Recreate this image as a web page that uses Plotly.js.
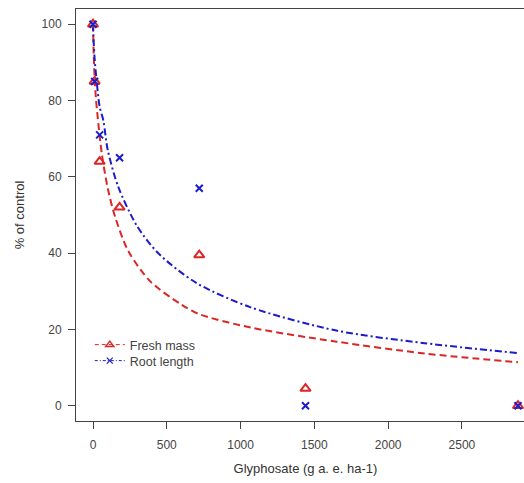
<!DOCTYPE html>
<html>
<head>
<meta charset="utf-8">
<script src="https://cdn.plot.ly/plotly-3.0.1.min.js"></script>
<style>
html,body{margin:0;padding:0;overflow:hidden;background:#fff;}
#chart{width:545px;height:483px;}
</style>
</head>
<body>
<div id="chart"></div>
<script>
// Observed points
var doses = [0, 11.25, 45, 180, 720, 1440, 2880];
var freshMass = [100, 85, 64, 52, 39.5, 4.5, 0];
var rootLength = [100, 85, 71, 65, 57, 0, 0];

// Fitted curves
var fitDoseFresh = [0, 5, 11, 20, 36, 60, 100, 150, 240, 388, 600, 720, 1068, 1650, 2247, 2880];
var fitFresh     = [100, 92, 86, 80.5, 74, 66, 57, 49.5, 40.5, 32.6, 26.5, 24, 20.5, 16.8, 13.7, 11.4];
var fitDoseRoot  = [0, 5, 11, 20, 45, 70, 100, 172, 300, 444, 700, 1068, 1650, 2247, 2880];
var fitRoot      = [100, 95, 91, 87, 78.4, 74.8, 67, 57.3, 47, 39.9, 32.2, 25.8, 19.7, 16.4, 13.8];

var xTicks = [0, 500, 1000, 1500, 2000, 2500];
var yTicks = [0, 20, 40, 60, 80, 100];

var red = 'rgb(220,38,38)';
var blue = 'rgb(28,28,200)';

var traces = [
  {x: fitDoseFresh, y: fitFresh, mode: 'lines', line: {color: red, width: 2, dash: '7px,4px', shape: 'spline', smoothing: 0.8}, showlegend: false, hoverinfo: 'skip'},
  {x: fitDoseRoot, y: fitRoot, mode: 'lines', line: {color: blue, width: 2, dash: '7px,3px,2px,3px', shape: 'spline', smoothing: 0.8}, showlegend: false, hoverinfo: 'skip'},
  {x: doses, y: freshMass, mode: 'markers', marker: {symbol: 'triangle-up-open', size: 9, color: red, line: {width: 2, color: red}}, showlegend: false},
  {x: doses, y: rootLength, mode: 'markers', marker: {symbol: 'x-thin-open', size: 7, color: blue, line: {width: 2, color: blue}}, showlegend: false},
  {x: [null], y: [null], name: 'Fresh mass', legend: 'legend', mode: 'lines+markers', line: {color: red, width: 1, dash: '4px,3px'}, marker: {symbol: 'triangle-up-open', size: 7, color: red, line: {width: 1.5, color: red}}},
  {x: [null], y: [null], name: 'Root length', legend: 'legend2', mode: 'lines+markers', line: {color: blue, width: 1, dash: '3px,2px,1px,2px'}, marker: {symbol: 'x-thin-open', size: 6, color: blue, line: {width: 1.2, color: blue}}}
];

var axisCommon = {
  showgrid: false, zeroline: false, showline: true, mirror: true,
  linecolor: '#444', linewidth: 1, ticks: 'outside', ticklen: 7, tickwidth: 1, tickcolor: '#444',
  tickfont: {family: 'Liberation Sans, Arial, sans-serif', size: 12, color: '#444'}
};

var legendCommon = {xanchor: 'left', yanchor: 'middle', bgcolor: 'rgba(0,0,0,0)',
  font: {size: 12.5, color: '#444'}, itemwidth: 30, borderwidth: 0};

var layout = {
  width: 545, height: 483,
  margin: {l: 76, r: 10, t: 9, b: 62},
  paper_bgcolor: '#fff', plot_bgcolor: '#fff',
  font: {family: 'Liberation Sans, Arial, sans-serif', color: '#333'},
  xaxis: Object.assign({}, axisCommon, {
    range: [-115.2, 2995.2], tickvals: xTicks, ticklabelstandoff: 6,
    title: {text: 'Glyphosate (g a. e. ha-1)', font: {size: 13, color: '#333'}, standoff: 12}
  }),
  yaxis: Object.assign({}, axisCommon, {
    range: [-4, 104], tickvals: yTicks, ticklabelstandoff: 4,
    title: {text: '% of control', font: {size: 13, color: '#333'}, standoff: 14}
  }),
  showlegend: true,
  legend: Object.assign({}, legendCommon, {x: 0.03, y: 1 - (345 - 9) / 412}),
  legend2: Object.assign({}, legendCommon, {x: 0.03, y: 1 - (361 - 9) / 412})
};

Plotly.newPlot('chart', traces, layout, {displayModeBar: false, staticPlot: true});
</script>
</body>
</html>
